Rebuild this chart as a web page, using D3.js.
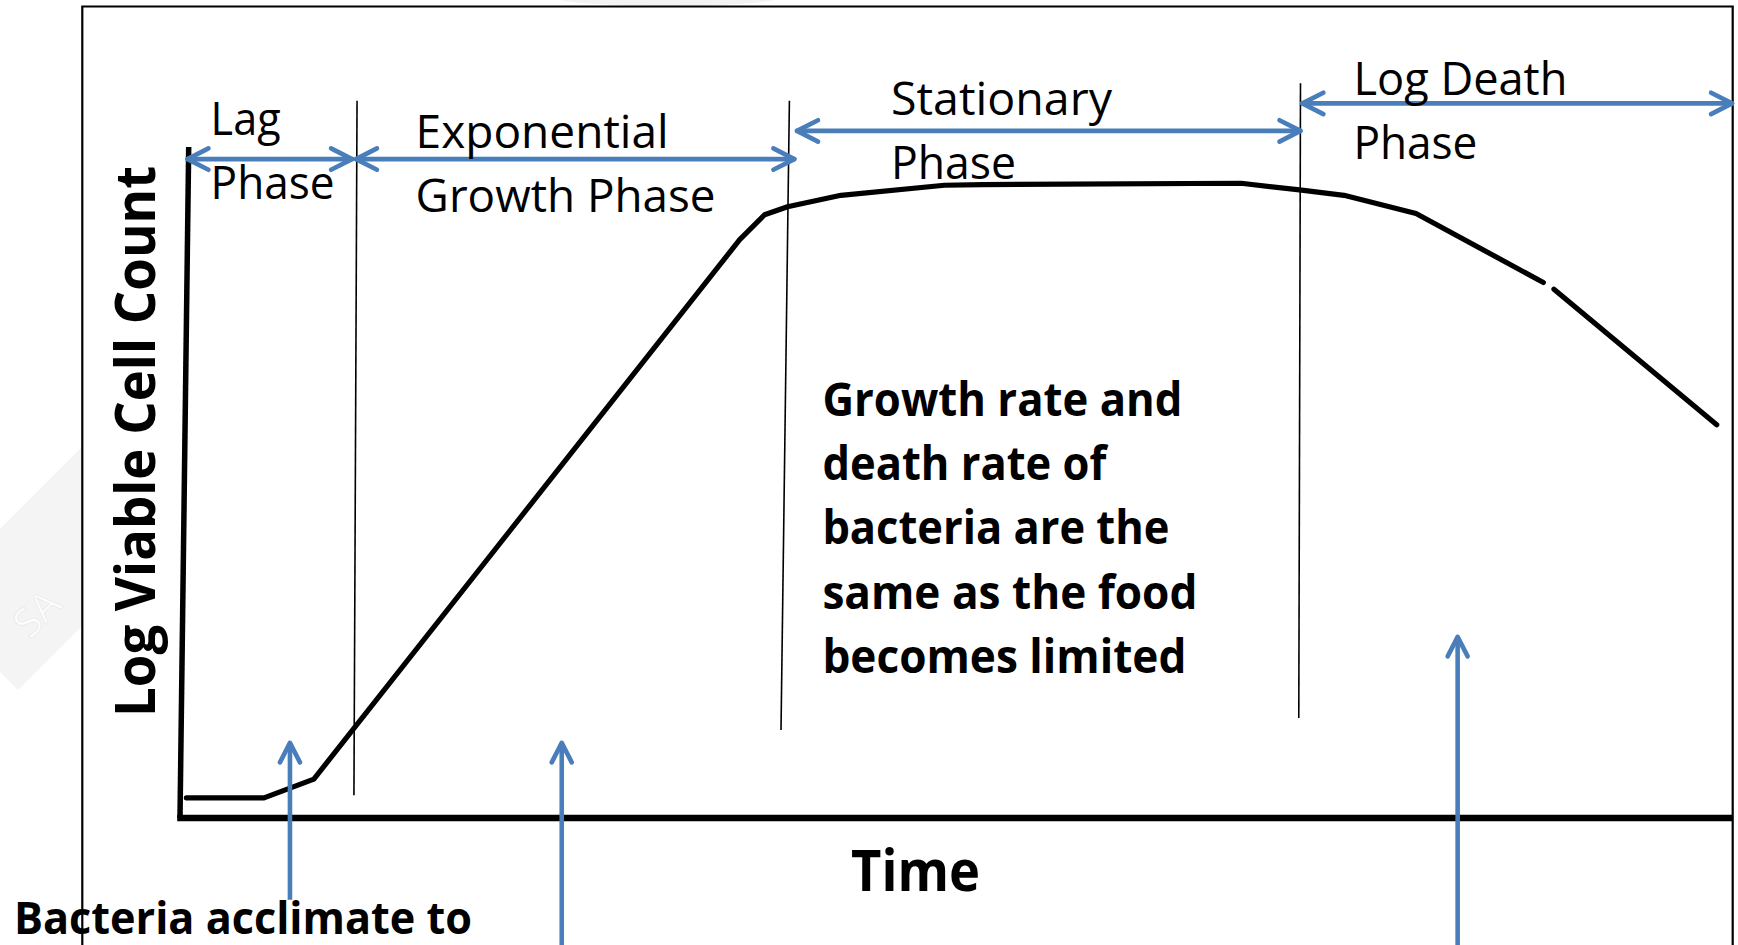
<!DOCTYPE html>
<html><head><meta charset="utf-8">
<script src="https://cdn.jsdelivr.net/npm/d3@7"></script>
<style>html,body{margin:0;padding:0;background:#fff;overflow:hidden}</style>
</head><body>
<svg id="chart" width="1738" height="945"></svg>
<script>
// ---------- data (time units 0..100, log count units 0..10) ----------
const curveTime = [0.41, 5.41, 8.62, 36.04, 37.64, 39.12, 42.56, 49.22, 51.69, 68.32, 72.09, 74.95, 79.59, 87.79];
const curveLog  = [0.30, 0.30, 0.58, 8.62, 8.99, 9.11, 9.28, 9.43, 9.44, 9.46, 9.36, 9.28, 9.01, 7.98];
const tailTime  = [88.47, 98.95];
const tailLog   = [7.88, 5.86];

const phaseLine1 = ["Lag", "Exponential", "Stationary", "Log Death"];
const phaseLine2 = ["Phase", "Growth Phase", "Phase", "Phase"];
const phaseStart = [0.48, 11.33, 39.73, 72.27];
const phaseEnd   = [11.08, 39.56, 72.15, 99.94];
const phaseArrowLog = [9.82, 9.82, 10.24, 10.65];

const dividerTopTime    = [11.40, 39.24, 72.15];
const dividerBottomTime = [11.20, 38.70, 72.04];
const dividerTopLog     = [10.69, 10.69, 10.95];
const dividerBottomLog  = [0.34, 1.31, 1.49];

const pointerTime    = [7.08, 24.58, 82.27];
const pointerTipLog  = [1.12, 1.12, 2.70];
const pointerTailLog = [-1.22, -1.90, -1.90];

const noteLines = ["Growth rate and", "death rate of", "bacteria are the", "same as the food", "becomes limited"];
const xTitle = "Time";
const yTitle = "Log Viable Cell Count";
const bottomNote = "Bacteria acclimate to";
const watermark = "SA";

// ---------- layout ----------
const svg = d3.select("#chart");
const x = d3.scaleLinear().domain([0, 100]).range([180, 1733]);
const y = d3.scaleLinear().domain([0, 10]).range([818, 147]);
const blue = "#4A7EBB";
const font = "'Open Sans', 'Noto Sans', sans-serif";

// watermark (faint)
const defs = svg.append("defs");
defs.append("clipPath").attr("id", "wmclip").append("rect").attr("x", 0).attr("y", 0).attr("width", 81).attr("height", 945);
const wm = svg.append("g");
wm.append("polygon").attr("clip-path", "url(#wmclip)").attr("points", "96,433 0,529 0,672 18,690 110,598").attr("fill", "#f4f4f4");
wm.append("text").attr("transform", "translate(30,640) rotate(-45)")
  .attr("font-family", font).attr("font-size", 40).attr("fill", "#ffffff")
  .attr("stroke", "#ececec").attr("stroke-width", 1).text(watermark);
svg.append("path").attr("d", "M560,0 L775,0 C740,8 600,8 560,0 Z").attr("fill", "#f3f3f3");

// frame
svg.append("path").attr("d", "M82.3,945 V6.5 H1732.7 V945")
  .attr("fill", "none").attr("stroke", "#000").attr("stroke-width", 2.2);

// axes lines
const line = d3.line().x(d => x(d.t)).y(d => y(d.v));
svg.append("path").datum([{t: 0, v: 0}, {t: 0.56, v: 10}])
  .attr("d", line).attr("fill", "none").attr("stroke", "#000").attr("stroke-width", 5.5);
svg.append("path").datum([{t: -0.18, v: 0}, {t: 100, v: 0}])
  .attr("d", line).attr("fill", "none").attr("stroke", "#000").attr("stroke-width", 6.5);

// phase dividers
svg.append("g").selectAll("path").data(dividerTopTime).join("path")
  .attr("d", (d, i) => line([{t: d, v: dividerTopLog[i]}, {t: dividerBottomTime[i], v: dividerBottomLog[i]}]))
  .attr("stroke", "#000").attr("stroke-width", 1.6).attr("fill", "none");

// growth curve
const curveData = curveTime.map((t, i) => ({t, v: curveLog[i]}));
const tailData = tailTime.map((t, i) => ({t, v: tailLog[i]}));
[curveData, tailData].forEach(dat => {
  svg.append("path").datum(dat).attr("d", line)
    .attr("fill", "none").attr("stroke", "#000").attr("stroke-width", 5.2)
    .attr("stroke-linejoin", "round").attr("stroke-linecap", "round");
});

// horizontal double arrows
const ah = 21, aw = 10.7;
const arrows = svg.append("g").attr("stroke", blue).attr("stroke-width", 4.6)
  .attr("fill", "none").attr("stroke-linecap", "round").attr("stroke-linejoin", "round");
phaseStart.forEach((s, i) => {
  const x1 = x(s), x2 = x(phaseEnd[i]), yy = y(phaseArrowLog[i]);
  arrows.append("path").attr("d", `M${x1},${yy} H${x2}`);
  arrows.append("path").attr("d", `M${x1 + ah},${yy - aw} L${x1},${yy} L${x1 + ah},${yy + aw}`);
  arrows.append("path").attr("d", `M${x2 - ah},${yy - aw} L${x2},${yy} L${x2 - ah},${yy + aw}`);
});

// vertical pointer arrows
const vh = 19.5, vw = 10;
pointerTime.forEach((t, i) => {
  const xx = x(t), tip = y(pointerTipLog[i]), tail = y(pointerTailLog[i]);
  arrows.append("path").attr("d", `M${xx},${tail} V${tip}`).attr("stroke-linecap", "butt");
  arrows.append("path").attr("d", `M${xx - vw},${tip + vh} L${xx},${tip} L${xx + vw},${tip + vh}`);
});

// text helper
function txt(str, px, py, size, weight, width) {
  const t = svg.append("text").attr("x", px).attr("y", py)
    .attr("font-family", font).attr("font-size", size).attr("font-weight", weight)
    .attr("fill", "#000").text(str);
  if (width) t.attr("textLength", width).attr("lengthAdjust", "spacingAndGlyphs");
  return t;
}

// phase labels
const labelLeft = [210.6, 415.6, 891, 1353.4];
const labelBase = [135, 148.3, 115, 95];
const w1 = [70, 253, 221, 214];
const w2 = [124, 300, 125, 124];
phaseLine1.forEach((s, i) => {
  txt(s, labelLeft[i], labelBase[i], 45, 400, w1[i]);
  txt(phaseLine2[i], labelLeft[i], labelBase[i] + 63.5, 45, 400, w2[i]);
});

// bold note
const noteW = [360, 284, 347, 375, 364];
noteLines.forEach((s, i) => txt(s, 822.4, 415.6 + i * 64.3, 46, 700, noteW[i]));

// axis titles
txt(xTitle, 851, 890.5, 57, 700, 129);
txt(bottomNote, 14, 933.5, 45, 700, 458);
svg.append("text").attr("transform", "translate(155,717) rotate(-90)")
  .attr("font-family", font).attr("font-size", 56).attr("font-weight", 700)
  .attr("textLength", 551).attr("lengthAdjust", "spacingAndGlyphs").text(yTitle);
</script>
</body></html>
